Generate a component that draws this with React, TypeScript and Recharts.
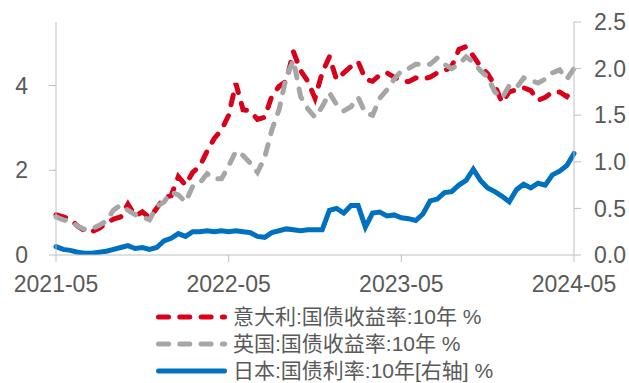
import { LineChart, Line, XAxis, YAxis } from 'recharts';

// half-month steps, 2021-05 .. 2024-05
const tickLabels = ['2021-05', '2022-05', '2023-05', '2024-05'];

const italy = [
  0.95, 0.9, 0.85, 0.68, 0.57, 0.55, 0.63, 0.75, 0.85, 0.9, 1.2, 0.92, 1.02, 0.88, 1.1, 1.35, 1.4, 1.85, 1.65, 1.95,
  2.1, 2.45, 2.75, 2.95, 3.3, 4.05, 3.43, 3.4, 3.2, 3.25, 3.75, 3.98, 4.1, 4.8, 4.35, 4.1, 3.7, 4.3, 4.68, 4.14,
  4.3, 4.45, 4.56, 4.15, 4.1, 4.25, 4.3, 4.2, 4.12, 4.09, 4.18, 4.15, 4.2, 4.3, 4.35, 4.45, 4.85, 4.92, 4.7, 4.45,
  4.28, 4.0, 3.6, 3.85, 3.9, 3.95, 3.88, 3.65, 3.72, 3.85, 3.85, 3.74, 3.95,
];

const uk = [
  0.9, 0.83, 0.8, 0.68, 0.6, 0.62, 0.7, 0.8, 1.06, 1.18, 1.06, 0.95, 0.9, 0.83, 1.15, 1.25, 1.48, 1.42, 1.25, 1.62,
  1.7, 1.92, 1.8, 1.8, 2.1, 2.45, 2.35, 2.17, 1.95, 2.3, 2.95, 3.43, 4.2, 4.6, 3.74, 3.45, 3.25, 3.5, 3.83, 3.55,
  3.4, 3.5, 3.72, 3.35, 3.3, 3.7, 3.9, 4.15, 4.35, 4.4, 4.5, 4.5, 4.5, 4.65, 4.5, 4.4, 4.5, 4.68, 4.55, 4.35,
  4.2, 3.85, 3.7, 4.0, 3.95, 4.18, 4.12, 4.06, 4.15, 4.3, 4.37, 4.15, 4.4,
];

const japan = [
  0.09, 0.06, 0.05, 0.03, 0.02, 0.02, 0.03, 0.04, 0.06, 0.08, 0.1, 0.07, 0.08, 0.06, 0.08, 0.15, 0.18, 0.23, 0.2, 0.25,
  0.25, 0.26, 0.25, 0.26, 0.25, 0.26, 0.25, 0.24, 0.2, 0.19, 0.24, 0.26, 0.28, 0.27, 0.26, 0.27, 0.27, 0.27, 0.48, 0.5,
  0.45, 0.53, 0.53, 0.3, 0.45, 0.46, 0.42, 0.43, 0.4, 0.39, 0.37, 0.44, 0.58, 0.6, 0.67, 0.68, 0.75, 0.8, 0.92, 0.8,
  0.72, 0.68, 0.63, 0.57, 0.7, 0.76, 0.72, 0.77, 0.75, 0.86, 0.9, 0.96, 1.09,
];

const leftTicks = [0, 2, 4];
const rightTicks = [0, 0.5, 1, 1.5, 2, 2.5];

const seriesNames = ['意大利:国债收益率:10年 %', '英国:国债收益率:10年 %', '日本:国债利率:10年[右轴] %'];
const colors = ['#D9001B', '#A6A6A6', '#0070C0'];

const dates: string[] = [];
for (let y = 2021, m = 5; dates.length < italy.length; ) {
  const key = `${y}-${String(m).padStart(2, '0')}`;
  dates.push(key);
  if (dates.length < italy.length) dates.push(key + '-16');
  m++;
  if (m > 12) { m = 1; y++; }
}

const data = dates.map((date, i) => ({ date, italy: italy[i], uk: uk[i], japan: japan[i] }));

const AXIS = '#BFBFBF';
const TEXT = '#595959';
const FONT = '"Liberation Sans", Arial, "Noto Sans CJK SC", sans-serif';
const TICK = { fontSize: 23, fill: TEXT, fontFamily: FONT };
const DASH = '10 11.3';

function LegendRow({ color, dashed, label, top }: { color: string; dashed: boolean; label: string; top: number }) {
  return (
    <div style={{ position: 'absolute', left: 150, top, height: 26, display: 'flex', alignItems: 'center' }}>
      <svg width={80} height={26}>
        <line x1={8.5} x2={74.5} y1={13} y2={13} stroke={color} strokeWidth={5} strokeLinecap="round"
          strokeDasharray={dashed ? DASH : undefined} />
      </svg>
      <span style={{ marginLeft: 3, fontSize: 21, color: TEXT, fontFamily: FONT, whiteSpace: 'nowrap', lineHeight: '26px' }}>
        {label}
      </span>
    </div>
  );
}

export default function App() {
  return (
    <div style={{ position: 'absolute', left: 0, top: 0, width: 629, height: 383, background: '#fff' }}>
      <LineChart width={629} height={383} data={data} margin={{ top: 22, right: 0, left: 0, bottom: 88 }}>
        <XAxis dataKey="date" ticks={tickLabels} interval={0} height={40} stroke={AXIS} tickSize={7} tickMargin={14}
          tick={TICK} tickLine={{ stroke: AXIS }} />
        <YAxis yAxisId="left" domain={[0, 5.5]} ticks={leftTicks} width={56} stroke={AXIS} tickSize={7} tickMargin={21}
          tick={TICK} tickLine={{ stroke: AXIS }} allowDataOverflow />
        <YAxis yAxisId="right" orientation="right" domain={[0, 2.5]} ticks={rightTicks} width={55} stroke={AXIS}
          tickSize={7} tickMargin={13} tick={{ ...TICK, textAnchor: 'start' }} tickLine={{ stroke: AXIS }}
          tickFormatter={(v: number) => v.toFixed(1)} allowDataOverflow />
        <Line yAxisId="left" dataKey="italy" stroke={colors[0]} strokeWidth={5} strokeDasharray={DASH}
          strokeLinecap="round" dot={false} isAnimationActive={false} />
        <Line yAxisId="left" dataKey="uk" stroke={colors[1]} strokeWidth={5} strokeDasharray={DASH}
          strokeLinecap="round" dot={false} isAnimationActive={false} />
        <Line yAxisId="right" dataKey="japan" stroke={colors[2]} strokeWidth={5} strokeLinecap="round"
          dot={false} isAnimationActive={false} />
      </LineChart>
      <LegendRow color={colors[0]} dashed label={seriesNames[0]} top={304} />
      <LegendRow color={colors[1]} dashed label={seriesNames[1]} top={331} />
      <LegendRow color={colors[2]} dashed={false} label={seriesNames[2]} top={358} />
    </div>
  );
}
